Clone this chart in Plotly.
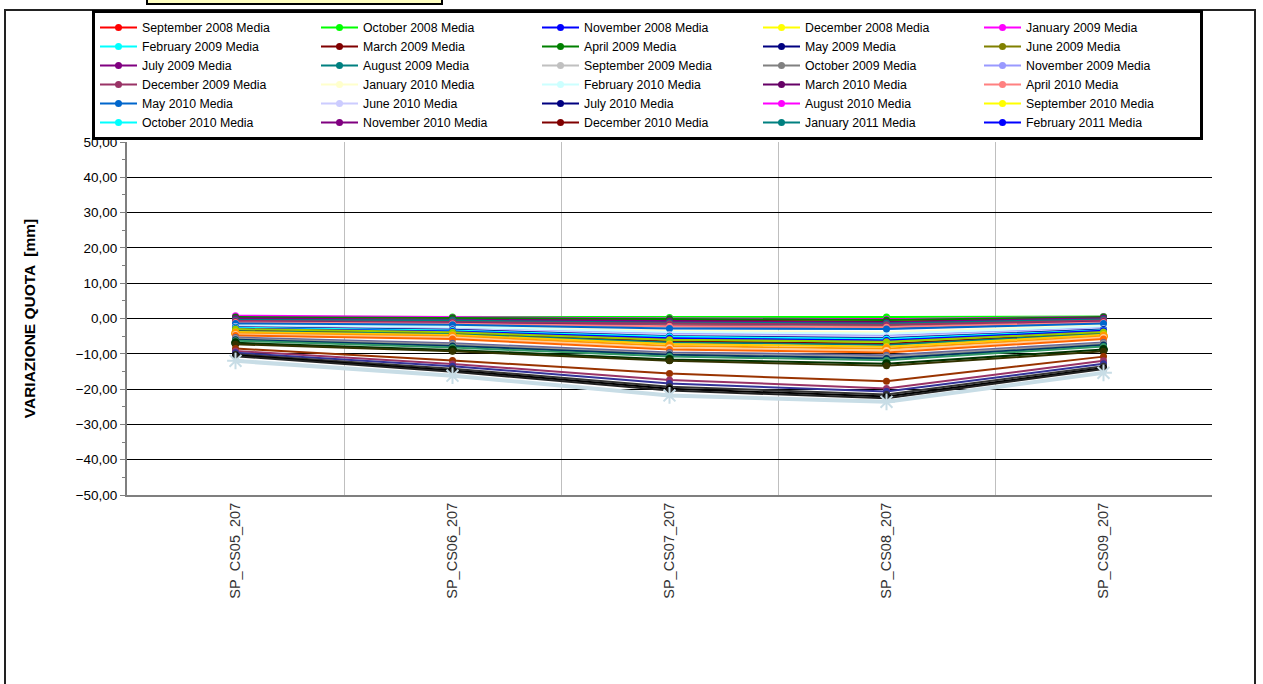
import plotly.graph_objects as go

# stations along the line
CATEGORIES = ['SP_CS05_207', 'SP_CS06_207', 'SP_CS07_207', 'SP_CS08_207', 'SP_CS09_207']

# survey series (mm), one list per campaign
sep_2008 = [0.2, 0.1, -0.2, -0.3, 0.3]
oct_2008 = [0.5, 0.4, 0.3, 0.4, 0.6]
nov_2008 = [-0.3, -0.5, -0.8, -1.0, -0.2]
dec_2008 = [0.1, -0.2, -0.4, -0.6, 0.2]
jan_2009 = [0.8, 0.3, 0.0, -0.2, 0.5]
feb_2009 = [-0.6, -0.9, -1.3, -1.5, -0.5]
mar_2009 = [-0.2, -0.3, -0.6, -0.9, 0.0]
apr_2009 = [0.4, 0.2, -0.1, -0.4, 0.4]
may_2009 = [-0.5, -0.7, -1.0, -1.2, -0.4]
jun_2009 = [-0.8, -1.1, -1.6, -1.9, -0.8]
jul_2009 = [0.0, -0.4, -0.7, -1.1, 0.1]
aug_2009 = [-0.4, -0.6, -1.2, -1.4, -0.3]
sep_2009 = [-1.2, -1.6, -2.4, -2.8, -1.2]
oct_2009 = [-0.9, -1.3, -1.9, -2.3, -0.9]
nov_2009 = [-2.0, -2.6, -4.2, -4.8, -2.6]
dec_2009 = [-0.7, -1.0, -1.5, -1.8, -0.6]
jan_2010 = [-1.6, -2.1, -3.4, -3.9, -1.8]
feb_2010 = [-1.8, -2.4, -3.8, -4.3, -2.2]
mar_2010 = [-1.0, -1.4, -2.1, -2.6, -1.0]
apr_2010 = [-1.1, -1.5, -2.2, -2.5, -1.1]
may_2010 = [-1.4, -1.8, -2.8, -3.0, -1.4]
jun_2010 = [-2.3, -3.0, -4.6, -5.2, -2.9]
jul_2010 = [-2.5, -3.2, -5.0, -5.6, -3.1]
aug_2010 = [-2.8, -3.5, -5.3, -6.0, -3.4]
sep_2010 = [-3.2, -4.0, -6.2, -6.9, -3.9]
oct_2010 = [-2.6, -3.4, -5.2, -5.8, -3.3]
nov_2010 = [-3.0, -3.8, -5.8, -6.4, -3.6]
dec_2010 = [-3.4, -4.2, -6.5, -7.2, -4.1]
jan_2011 = [-3.6, -4.4, -6.8, -7.5, -4.3]
feb_2011 = [-2.9, -3.7, -5.6, -6.2, -3.5]

# later campaigns that the legend box cuts off
mar_2011 = [-3.0, -3.9, -6.0, -6.6, -3.8]
apr_2011 = [-3.8, -4.7, -7.2, -8.0, -4.6]
may_2011 = [-4.2, -5.0, -7.8, -8.6, -5.0]
jun_2011 = [-4.5, -5.4, -8.3, -9.1, -5.4]
jul_2011 = [-4.8, -5.8, -8.8, -9.6, -5.8]
aug_2011 = [-5.4, -7.0, -9.6, -10.4, -6.8]
sep_2011 = [-5.7, -7.4, -10.0, -10.9, -7.1]
oct_2011 = [-6.0, -7.8, -10.3, -11.3, -7.5]
nov_2011 = [-6.3, -8.2, -10.8, -11.8, -7.9]
dec_2011 = [-6.9, -8.9, -11.6, -12.8, -8.8]
jan_2012 = [-7.3, -9.3, -12.0, -13.4, -9.3]
feb_2012 = [-8.5, -11.9, -15.6, -17.8, -10.8]
mar_2012 = [-9.2, -12.9, -17.4, -19.8, -12.0]
apr_2012 = [-9.7, -13.5, -18.4, -20.7, -12.8]
may_2012 = [-10.1, -14.2, -19.3, -21.5, -13.5]
jun_2012 = [-10.4, -14.7, -19.9, -22.1, -14.0]
jul_2012 = [-10.7, -15.1, -20.4, -22.6, -14.3]
aug_2012 = [-12.0, -16.2, -21.8, -23.6, -15.4]

LEGEND_SERIES = [
    ('September 2008 Media', sep_2008, '#FF0000'),
    ('October 2008 Media', oct_2008, '#00FF00'),
    ('November 2008 Media', nov_2008, '#0000FF'),
    ('December 2008 Media', dec_2008, '#FFFF00'),
    ('January 2009 Media', jan_2009, '#FF00FF'),
    ('February 2009 Media', feb_2009, '#00FFFF'),
    ('March 2009 Media', mar_2009, '#800000'),
    ('April 2009 Media', apr_2009, '#008000'),
    ('May 2009 Media', may_2009, '#000080'),
    ('June 2009 Media', jun_2009, '#808000'),
    ('July 2009 Media', jul_2009, '#800080'),
    ('August 2009 Media', aug_2009, '#008080'),
    ('September 2009 Media', sep_2009, '#C0C0C0'),
    ('October 2009 Media', oct_2009, '#808080'),
    ('November 2009 Media', nov_2009, '#9999FF'),
    ('December 2009 Media', dec_2009, '#993366'),
    ('January 2010 Media', jan_2010, '#FFFFCC'),
    ('February 2010 Media', feb_2010, '#CCFFFF'),
    ('March 2010 Media', mar_2010, '#660066'),
    ('April 2010 Media', apr_2010, '#FF8080'),
    ('May 2010 Media', may_2010, '#0066CC'),
    ('June 2010 Media', jun_2010, '#CCCCFF'),
    ('July 2010 Media', jul_2010, '#000080'),
    ('August 2010 Media', aug_2010, '#FF00FF'),
    ('September 2010 Media', sep_2010, '#FFFF00'),
    ('October 2010 Media', oct_2010, '#00FFFF'),
    ('November 2010 Media', nov_2010, '#800080'),
    ('December 2010 Media', dec_2010, '#800000'),
    ('January 2011 Media', jan_2011, '#008080'),
    ('February 2011 Media', feb_2011, '#0000FF'),
]

HIDDEN_SERIES = [
    ('March 2011 Media', mar_2011, '#99CC00'),
    ('April 2011 Media', apr_2011, '#FFCC00'),
    ('May 2011 Media', may_2011, '#FF9900'),
    ('June 2011 Media', jun_2011, '#FFCC99'),
    ('July 2011 Media', jul_2011, '#FF6600'),
    ('August 2011 Media', aug_2011, '#666699'),
    ('September 2011 Media', sep_2011, '#969696'),
    ('October 2011 Media', oct_2011, '#003366'),
    ('November 2011 Media', nov_2011, '#339966'),
    ('December 2011 Media', dec_2011, '#003300'),
    ('January 2012 Media', jan_2012, '#333300'),
    ('February 2012 Media', feb_2012, '#993300'),
    ('March 2012 Media', mar_2012, '#993366'),
    ('April 2012 Media', apr_2012, '#333399'),
    ('May 2012 Media', may_2012, '#333333'),
    ('June 2012 Media', jun_2012, '#000000'),
    ('July 2012 Media', jul_2012, '#222222'),
]

LAST_SERIES = ('August 2012 Media', aug_2012, '#C8DDE6')

FONT = 'Arial, Liberation Sans, sans-serif'

fig = go.Figure()

for name, vals, colour in LEGEND_SERIES:
    fig.add_trace(go.Scatter(
        x=CATEGORIES, y=vals, name=name, mode='lines+markers',
        line={'color': colour, 'width': 2},
        marker={'color': colour, 'size': 7, 'symbol': 'circle'},
    ))

for name, vals, colour in HIDDEN_SERIES:
    big = colour in ('#003300', '#FF9900')
    fig.add_trace(go.Scatter(
        x=CATEGORIES, y=vals, name=name, mode='lines+markers', showlegend=False,
        line={'color': colour, 'width': 2},
        marker={'color': colour, 'size': 9 if big else 7, 'symbol': 'circle'},
    ))

name, vals, colour = LAST_SERIES
fig.add_trace(go.Scatter(
    x=CATEGORIES, y=vals, name=name, mode='lines+markers', showlegend=False,
    line={'color': colour, 'width': 4},
    marker={'color': colour, 'size': 14, 'symbol': 'asterisk-open',
            'line': {'color': colour, 'width': 2}},
))

# plot area in page pixels (body margin is removed below)
PLOT_L, PLOT_R, PLOT_T, PLOT_B = 127, 1212, 142, 495


def px_x(px):
    return (px - PLOT_L) / (PLOT_R - PLOT_L)


def px_y(py):
    return (PLOT_B - py) / (PLOT_B - PLOT_T)


shapes = [
    # outer frame of the chart object
    dict(type='rect', xref='paper', yref='paper',
         x0=px_x(5), x1=px_x(1255), y0=px_y(720), y1=px_y(10),
         line={'color': '#222222', 'width': 2}, fillcolor='rgba(0,0,0,0)', layer='below'),
    # title box cut at the top
    dict(type='rect', xref='paper', yref='paper',
         x0=px_x(147), x1=px_x(442), y0=px_y(4), y1=px_y(-20),
         line={'color': '#000000', 'width': 2}, fillcolor='#FFFFC0'),
]

W, H = 1263, 684
fig.update_layout(
    width=W, height=H,
    margin=dict(l=PLOT_L, r=W - PLOT_R, t=PLOT_T, b=H - PLOT_B, autoexpand=False),
    paper_bgcolor='white', plot_bgcolor='white',
    separators=',.',
    font={'family': FONT, 'color': '#000000', 'size': 13},
    shapes=shapes,
    showlegend=True,
    legend=dict(
        orientation='h', xref='paper', yref='paper',
        x=px_x(92), y=px_y(10), xanchor='left', yanchor='top',
        entrywidth=169, entrywidthmode='pixels', itemwidth=37,
        bordercolor='#000000', borderwidth=3, bgcolor='white',
        font={'family': FONT, 'size': 12.3, 'color': '#000000'},
        traceorder='normal', tracegroupgap=0,
    ),
    xaxis=dict(
        type='category', tickangle=-90, tickson='boundaries',
        showgrid=True, gridcolor='#BFBFBF', gridwidth=1,
        showline=True, linecolor='#7F7F7F', linewidth=2,
        ticks='', tickfont={'family': FONT, 'size': 14.5, 'color': '#333333'},
        range=[-0.5, 4.5], zeroline=False,
    ),
    yaxis=dict(
        range=[-50, 50], dtick=10, tickformat='.2f',
        showgrid=True, gridcolor='#000000', gridwidth=1,
        zeroline=True, zerolinecolor='#000000', zerolinewidth=1,
        showline=True, linecolor='#7F7F7F', linewidth=2,
        ticks='outside', ticklen=5, tickcolor='#7F7F7F', tickwidth=1,
        minor=dict(dtick=5, ticks='outside', ticklen=3, tickcolor='#7F7F7F', showgrid=False),
        tickfont={'family': FONT, 'size': 13.5, 'color': '#000000'},
        title=dict(text='<b>VARIAZIONE QUOTA \u00a0[mm]</b>', standoff=36,
                   font={'family': FONT, 'size': 15.5, 'color': '#000000'}),
    ),
)

# drop the default page margin so the figure starts at the window corner
fig.write_html('out.html', config={'displayModeBar': False},
               post_script="document.body.style.margin = '0';")
